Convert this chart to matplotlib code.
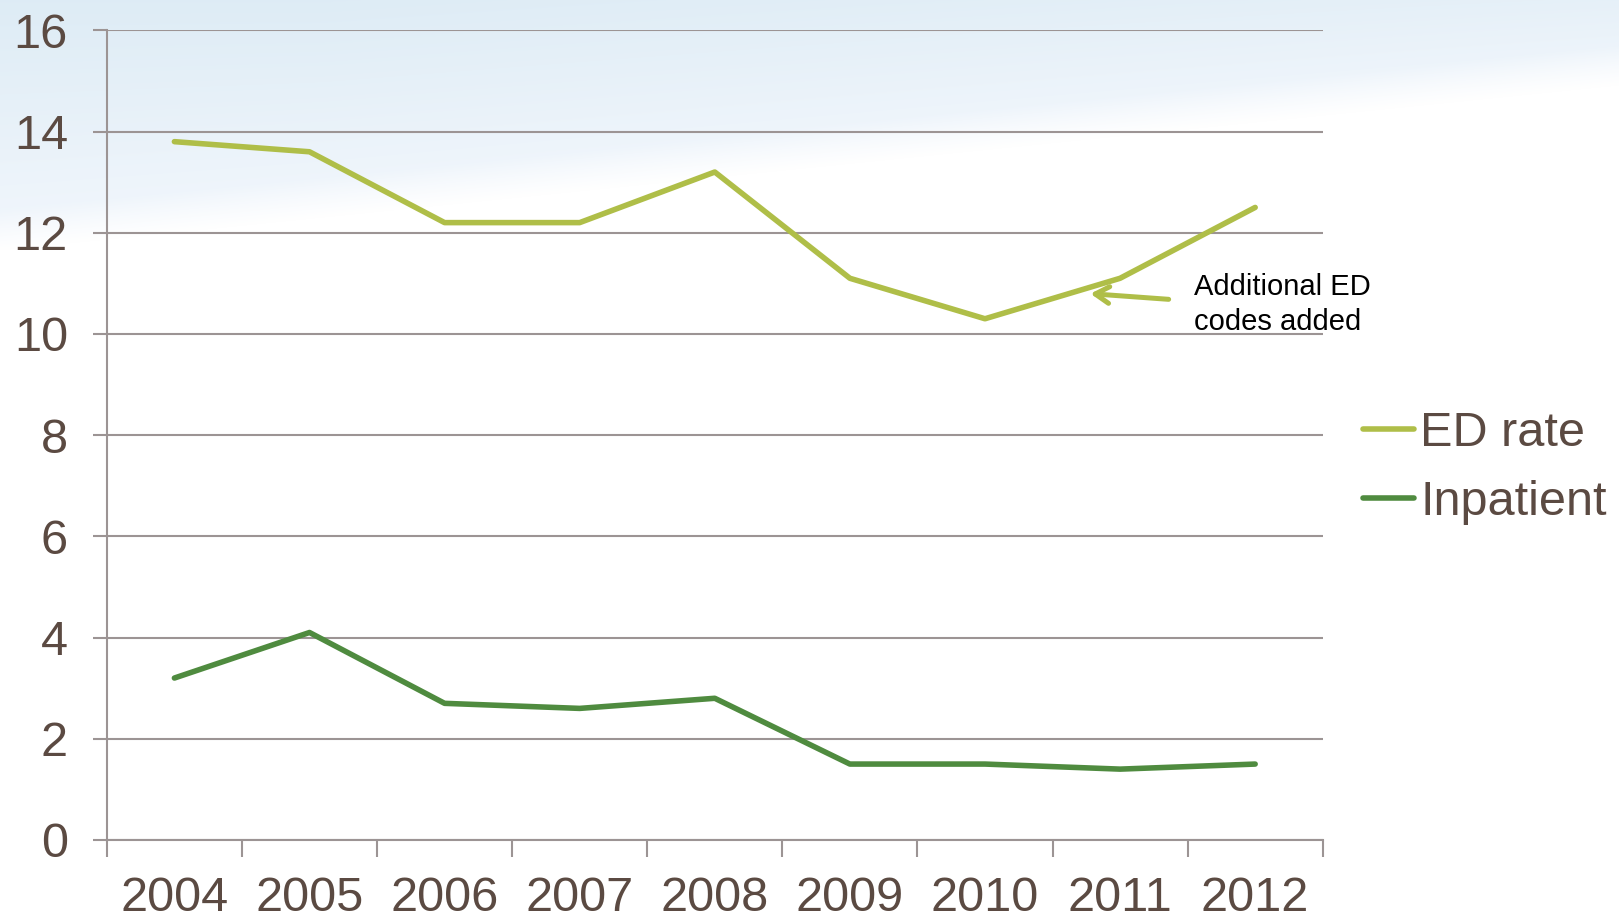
import numpy as np
import matplotlib
matplotlib.use("Agg")
import matplotlib.pyplot as plt

# Data
years = ['2004', '2005', '2006', '2007', '2008', '2009', '2010', '2011', '2012']
ed_rate = [13.8, 13.6, 12.2, 12.2, 13.2, 11.1, 10.3, 11.1, 12.5]
inpatient = [3.2, 4.1, 2.7, 2.6, 2.8, 1.5, 1.5, 1.4, 1.5]

text_color = '#5B4A42'
grid_color = '#9C9494'
ed_color = '#AFBE48'
inp_color = '#4F8B3F'

plt.rcParams['font.family'] = ['Liberation Sans', 'DejaVu Sans']

fig = plt.figure(figsize=(16.19, 9.19), dpi=100)

# sky-like background gradient
bg = fig.add_axes([0, 0, 1, 1], zorder=-10)
h, w = 919, 1619
yy, xx = np.mgrid[0:h, 0:w]
edge = 250 - 165 * xx / w
t = np.clip((edge - yy) / 40.0, 0, 1)
shade = np.clip(1 - yy / edge, 0, 1) * np.clip(1.1 - 0.5 * xx / w, 0, 1)
top = np.array([0.87, 0.925, 0.962])
low = np.array([0.95, 0.968, 0.99])
col = low[None, None, :] + (top - low)[None, None, :] * shade[..., None]
img = 1 - t[..., None] * (1 - col)
bg.imshow(np.clip(img, 0, 1), aspect='auto', extent=[0, 1, 0, 1], origin='upper')
bg.axis('off')

ax = fig.add_axes([0.066, 0.086, 0.751, 0.881])
ax.patch.set_alpha(0)
x = np.arange(len(years))
ax.plot(x, ed_rate, color=ed_color, lw=4, label='ED rate', solid_capstyle='round')
ax.plot(x, inpatient, color=inp_color, lw=4, label='Inpatient', solid_capstyle='round')

ax.set_xlim(-0.5, len(years) - 0.5)
ax.set_ylim(0, 16)
ax.set_yticks(range(0, 17, 2))
ax.yaxis.grid(True, color=grid_color, lw=1.5)
ax.set_axisbelow(True)

ax.set_xticks(np.arange(-0.5, len(years), 1.0))
ax.set_xticklabels([])
ax.set_xticks(x, minor=True)
ax.set_xticklabels(years, minor=True)
ax.tick_params(axis='x', which='major', length=12, width=1.5, color=grid_color, direction='out')
ax.tick_params(axis='x', which='minor', length=0, pad=26, labelsize=35, labelcolor=text_color)
ax.tick_params(axis='y', length=10, width=1.5, color=grid_color, pad=18, labelsize=35,
               labelcolor=text_color)

for s in ['top', 'right']:
    ax.spines[s].set_visible(False)
for s in ['left', 'bottom']:
    ax.spines[s].set_color(grid_color)
    ax.spines[s].set_linewidth(1.5)

# annotation
ax.annotate('', xy=(6.76, 10.8), xytext=(7.38, 10.68),
            arrowprops=dict(arrowstyle='->,head_length=1.0,head_width=0.6',
                            color=ed_color, lw=3.6))
ax.text(7.55, 10.58, 'Additional ED\ncodes added', fontsize=21, color='black',
        va='center', ha='left', linespacing=1.3)

leg = fig.legend(loc='center left', bbox_to_anchor=(0.842, 0.491), frameon=False,
                 fontsize=35, handlelength=1.05, handletextpad=0.12, labelspacing=0.5,
                 borderpad=0, borderaxespad=0)
for t_ in leg.get_texts():
    t_.set_color(text_color)
for l_ in leg.get_lines():
    l_.set_linewidth(4)

fig.savefig('out.png', dpi=100)
